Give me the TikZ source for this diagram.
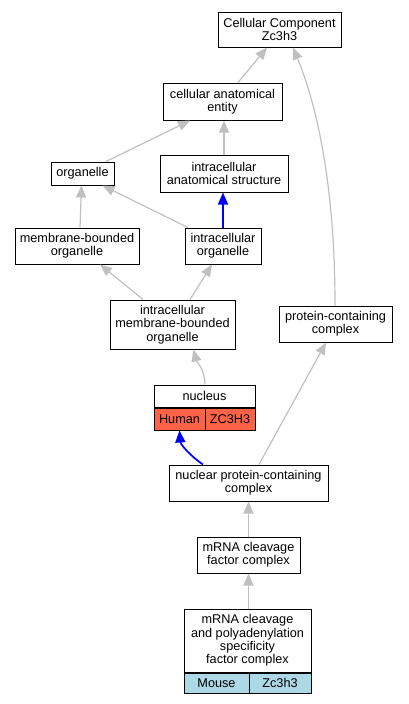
\documentclass[tikz,border=0pt]{standalone}
\usepackage{fontspec}
\setmainfont{Liberation Sans}
\usetikzlibrary{arrows.meta}
\definecolor{edgegray}{HTML}{C0C0C0}
\definecolor{humanred}{HTML}{FF6347}
\definecolor{mouseblue}{HTML}{ADD8E6}
\tikzstyle{term} = [draw=black, line width=1pt, fill=white, align=center, inner sep=0pt,
    font=\fontsize{12.7}{13.3}\selectfont]
\tikzstyle{isa} = [draw=edgegray, line width=1.2pt, -{Triangle[length=12pt,width=10pt]}]
\tikzstyle{partof} = [draw=blue, line width=1.7pt]

\begin{document}
\begin{tikzpicture}[x=1pt,y=-1pt]

\useasboundingbox (0,0) rectangle (408,704);

\node[term, minimum width=123pt, minimum height=35pt] (cc) at (279.5,29.5) {Cellular Component\\Zc3h3};
\node[term, minimum width=119pt, minimum height=37pt] (cae) at (222.5,101.5) {cellular anatomical\\entity};
\node[term, minimum width=63pt, minimum height=23pt] (org) at (82.5,173.5) {organelle};
\node[term, minimum width=128pt, minimum height=37pt] (ias) at (224,173.5) {intracellular\\anatomical structure};
\node[term, minimum width=124pt, minimum height=36pt] (mbo) at (77,246) {membrane-bounded\\organelle};
\node[term, minimum width=76pt, minimum height=36pt] (io) at (223,246) {intracellular\\organelle};
\node[term, minimum width=125pt, minimum height=49pt] (imbo) at (172.5,324.5) {intracellular\\membrane-bounded\\organelle};
\node[term, minimum width=113pt, minimum height=36pt] (pcc) at (335.5,324) {protein-containing\\complex};

% nucleus with species row
\node[term, minimum width=101pt, minimum height=22pt] (nuc) at (204.5,396) {nucleus};
\node[term, fill=humanred, minimum width=51pt, minimum height=22pt, anchor=north west] (nucsp) at (nuc.south west) {Human};
\node[term, fill=humanred, minimum width=50pt, minimum height=22pt, anchor=north east] (nucgene) at (nuc.south east) {ZC3H3};

\node[term, minimum width=159pt, minimum height=36pt] (npcc) at (248.5,483) {nuclear protein-containing\\complex};
\node[term, minimum width=103pt, minimum height=36pt] (mcfc) at (248.5,555) {mRNA cleavage\\factor complex};

% cpsf with species row
\node[term, minimum width=127pt, minimum height=63pt] (cpsf) at (247.5,640.5) {mRNA cleavage\\and polyadenylation\\specificity\\factor complex};
\node[term, fill=mouseblue, minimum width=65pt, minimum height=20pt, anchor=north west] (cpsfsp) at (cpsf.south west) {Mouse};
\node[term, fill=mouseblue, minimum width=62pt, minimum height=20pt, anchor=north east] (cpsfgene) at (cpsf.south east) {Zc3h3};

\draw[isa] ([xshift=15.5pt]cae.north) -- ([xshift=-12.5pt]cc.south);
\draw[isa] ([xshift=-0.5pt]pcc.north) .. controls +(0,-126) and +(22,53) .. ([xshift=13.5pt]cc.south);
\draw[isa] ([xshift=23.5pt]org.north) -- ([xshift=-32.5pt]cae.south);
\draw[isa] (ias.north) -- (ias.north |- cae.south);
\draw[isa] ([xshift=3pt]mbo.north) -- ([xshift=-1pt]org.south);
\draw[isa] ([xshift=-35pt]io.north) -- ([xshift=20pt]org.south);
\draw[isa, partof] (io.north) -- (io.north |- ias.south);
\draw[isa] ([xshift=-29.5pt]imbo.north) -- ([xshift=23pt]mbo.south);
\draw[isa] ([xshift=17.5pt]imbo.north) -- ([xshift=-11pt]io.south);
\draw[isa] ([xshift=0.5pt]nuc.north) .. controls +(0,-15) and +(3,12) .. ([xshift=21pt]imbo.south);
\draw[isa] ([xshift=10.5pt]npcc.north) -- ([xshift=-9.5pt]pcc.south);
\draw[isa, partof] ([xshift=-45.5pt]npcc.north) .. controls +(-12,-8) and +(1,14) .. (nucsp.south);
\draw[isa] (mcfc.north) -- (npcc.south);
\draw[isa] (cpsf.north -| mcfc.south) -- (mcfc.south);

\end{tikzpicture}
\end{document}
